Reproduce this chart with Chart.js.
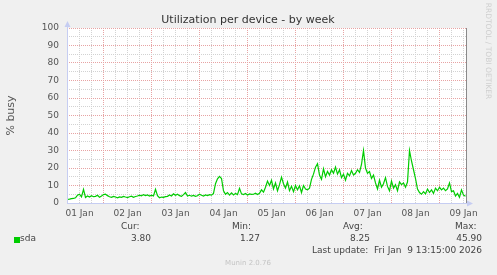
<!doctype html>
<html>
<head>
<meta charset="utf-8">
<title>Utilization per device - by week</title>
<style>
  body { margin: 0; background: #f0f0f0; }
  #chart { display: block; }
</style>
</head>
<body>
<canvas id="chart" width="497" height="275"></canvas>
<script src="https://cdn.jsdelivr.net/npm/chart.js"></script>
<script>
// hours are counted from 01 Jan 00:00, one reading per hour
var startHour = 6;
var viewStart = 5.75;
var viewEnd = 205.25;

var dayLabels = ['01 Jan', '02 Jan', '03 Jan', '04 Jan', '05 Jan', '06 Jan', '07 Jan', '08 Jan', '09 Jan'];
var yTickLabels = [0, 10, 20, 30, 40, 50, 60, 70, 80, 90, 100];

var sdaBusy = [
  2.1, 2.2, 2.5, 2.6, 3.0, 4.5, 5.0, 3.5, 7.8, 3.2, 4.0, 3.4, 4.2, 3.6, 3.8, 4.4, 3.3, 4.0,
  4.8, 5.0, 4.2, 3.6, 3.2, 3.8, 3.4, 3.0, 3.5, 3.2, 3.8, 3.4, 3.1, 3.6, 3.9, 3.3, 3.7, 4.0, 4.5, 4.1, 4.8, 4.2, 4.6, 4.0,
  4.5, 4.0, 7.8, 4.2, 3.0, 3.4, 3.2, 3.6, 3.8, 4.6, 4.0, 5.2, 4.4, 5.0, 4.2, 3.8, 4.8, 6.0, 4.0, 4.4, 3.9, 4.3, 3.8, 4.1, 5.0,
  4.4, 4.0, 4.6, 4.2, 4.8, 4.5, 5.5, 11.0, 13.8, 15.2, 14.0, 7.0, 5.0, 6.0, 4.5, 5.8, 4.6, 5.5, 4.8, 8.4, 5.2, 4.8, 5.4, 4.6, 5.2, 4.9, 5.0, 5.6, 4.8, 5.5, 7.5, 6.2, 9.0, 12.5, 10.0, 13.0,
  8.0, 11.5, 7.0, 10.5, 14.8, 11.0, 8.5, 12.0, 7.0, 9.5, 6.5, 10.0, 7.5, 9.8, 6.0, 10.0, 8.0, 7.5, 8.5, 13.5, 16.5, 20.5, 22.5, 16.0, 13.5, 19.5, 15.0, 18.0, 16.0, 19.0, 17.0, 20.5, 16.5,
  19.0, 14.5, 16.5, 13.0, 17.0, 15.5, 18.5, 16.0, 17.0, 19.0, 17.5, 22.0, 30.0, 20.0, 17.0, 18.0, 14.0, 16.0, 11.5, 8.0, 13.0, 9.0, 11.0, 14.5, 9.5, 7.0, 12.5, 8.5, 10.5, 7.0, 12.0, 10.5, 11.5, 9.0,
  12.0, 30.0, 24.0, 19.0, 14.0, 8.0, 6.0, 5.0, 6.5, 5.2, 8.0, 6.0, 7.5, 5.5, 8.5, 7.0, 9.0, 7.5, 8.5, 7.0, 8.0, 11.5, 6.5, 7.0, 4.0, 5.5, 3.2, 7.5, 4.5, 3.8
];

var statHeads = ['Cur:', 'Min:', 'Avg:', 'Max:'];
var statValues = ['3.80', '1.27', '8.25', '45.90'];
var seriesName = 'sda';
var lastUpdate = 'Last update:  Fri Jan  9 13:15:00 2026';

var points = sdaBusy.map(function (v, i) { return { x: startHour + i, y: v }; });

var FONT = 'DejaVu Sans';
var majorGrid = '#e7a3a3';
var minorGrid = '#d2d2d2';
var axisColor = '#c6cdf2';

var muninDeco = {
  id: 'muninDeco',
  beforeDraw: function (chart) {
    var c = chart.ctx, a = chart.chartArea;
    c.save();
    c.fillStyle = '#f0f0f0';
    c.fillRect(0, 0, chart.width, chart.height);
    c.fillStyle = '#ffffff';
    c.fillRect(a.left, a.top, a.right - a.left, a.bottom - a.top);
    c.restore();
  },
  afterDraw: function (chart) {
    var c = chart.ctx, a = chart.chartArea;
    c.save();
    // axes with arrows
    c.strokeStyle = axisColor;
    c.fillStyle = axisColor;
    c.lineWidth = 1;
    c.beginPath();
    c.moveTo(a.left + 0.5, a.bottom);
    c.lineTo(a.left + 0.5, a.top - 4);
    c.moveTo(a.left, a.bottom + 0.5);
    c.lineTo(a.right + 4, a.bottom + 0.5);
    c.stroke();
    c.beginPath();
    c.moveTo(a.left + 0.5, a.top - 7);
    c.lineTo(a.left - 2.5, a.top - 1);
    c.lineTo(a.left + 3.5, a.top - 1);
    c.fill();
    c.beginPath();
    c.moveTo(a.right + 7, a.bottom + 0.5);
    c.lineTo(a.right + 1, a.bottom - 2.5);
    c.lineTo(a.right + 1, a.bottom + 3.5);
    c.fill();
    // right edge line
    c.strokeStyle = '#8a8a8a';
    c.beginPath();
    c.moveTo(a.right + 0.5, a.top);
    c.lineTo(a.right + 0.5, a.bottom);
    c.stroke();

    // title
    c.fillStyle = '#333';
    c.font = '11px "' + FONT + '"';
    c.textAlign = 'center';
    c.textBaseline = 'middle';
    c.fillText('Utilization per device - by week', 248, 20);

    // legend
    c.font = '9px "' + FONT + '"';
    c.fillStyle = '#444';
    c.textAlign = 'left';
    var headX = [121, 232, 343, 455];
    var valRight = [151, 260, 370, 482];
    for (var i = 0; i < statHeads.length; i++) {
      c.fillText(statHeads[i], headX[i], 227);
    }
    c.textAlign = 'right';
    for (var j = 0; j < statValues.length; j++) {
      c.fillText(statValues[j], valRight[j], 239);
    }
    c.fillText(lastUpdate, 482, 251);
    c.textAlign = 'left';
    c.fillText(seriesName, 20, 239);
    c.fillStyle = '#00cc00';
    c.fillRect(14, 237, 6, 6);

    // footer
    c.fillStyle = '#c4c4c4';
    c.font = '7px "' + FONT + '"';
    c.textAlign = 'center';
    c.fillText('Munin 2.0.76', 248, 263);

    // rrdtool tag
    c.translate(488, 51);
    c.rotate(Math.PI / 2);
    c.fillStyle = '#cfcfcf';
    c.font = '7.5px "' + FONT + '"';
    c.fillText('RRDTOOL / TOBI OETIKER', 0, 0);
    c.restore();
  }
};

var ctx = document.getElementById('chart').getContext('2d');
var chart = new Chart(ctx, {
  type: 'line',
  data: {
    datasets: [{
      label: seriesName,
      data: points,
      borderColor: '#00cc00',
      borderWidth: 1.2,
      pointRadius: 0,
      tension: 0,
      fill: false
    }]
  },
  options: {
    responsive: false,
    animation: false,
    layout: { padding: { top: 28, right: 31, left: 0, bottom: 0 } },
    plugins: {
      legend: { display: false },
      tooltip: { enabled: false },
      title: { display: false }
    },
    scales: {
      x: {
        type: 'linear',
        min: viewStart,
        max: viewEnd,
        afterBuildTicks: function (s) {
          var t = [];
          for (var h = 6; h < viewEnd; h += 6) t.push({ value: h });
          s.ticks = t;
        },
        afterFit: function (s) { s.height = 72; },
        ticks: {
          autoSkip: false,
          maxRotation: 0,
          padding: 5,
          color: '#555',
          font: { family: FONT, size: 9 },
          callback: function (v) {
            return v % 24 === 12 ? dayLabels[(v - 12) / 24] : '';
          }
        },
        grid: {
          drawTicks: false,
          lineWidth: 1,
          color: function (c) {
            return c.tick && c.tick.value % 24 === 0 ? majorGrid : minorGrid;
          }
        },
        border: { display: false, dash: [1, 1] }
      },
      y: {
        min: 0,
        max: 100,
        afterBuildTicks: function (s) {
          var t = [];
          for (var v = 0; v <= 100; v += 5) t.push({ value: v });
          s.ticks = t;
        },
        afterFit: function (s) { s.width = 67; },
        ticks: {
          autoSkip: false,
          padding: 8,
          color: '#555',
          font: { family: FONT, size: 9 },
          callback: function (v) {
            return yTickLabels.indexOf(v) >= 0 ? String(v) : '';
          }
        },
        title: {
          display: true,
          text: '% busy',
          color: '#555',
          font: { family: FONT, size: 11 },
          padding: { top: 5, bottom: 0 }
        },
        grid: {
          drawTicks: false,
          lineWidth: 1,
          color: function (c) {
            return c.tick && c.tick.value % 10 === 0 ? majorGrid : minorGrid;
          }
        },
        border: { display: false, dash: [1, 1] }
      }
    }
  },
  plugins: [muninDeco]
});
</script>
</body>
</html>
